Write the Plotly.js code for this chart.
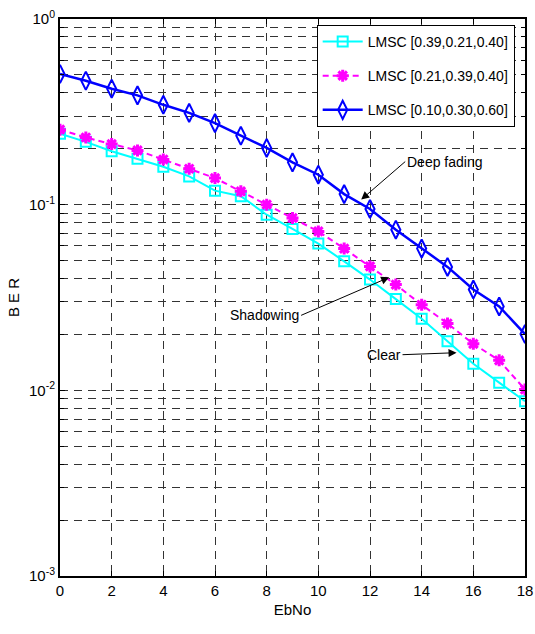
<!DOCTYPE html>
<html>
<head>
<meta charset="utf-8">
<script src="https://cdn.plot.ly/plotly-3.0.1.min.js"></script>
<style>html,body{margin:0;padding:0;background:#fff;}#chart{width:535px;height:634px;}</style>
</head>
<body>
<div id="chart"></div>
<script>
const ebno = [0,1,2,3,4,5,6,7,8,9,10,11,12,13,14,15,16,17,18];
const berClear = [0.241,0.218,0.194,0.177,0.160,0.142,0.119,0.111,0.0883,0.074,0.0617,0.0495,0.0395,0.031,0.0243,0.0184,0.0139,0.011,0.00873];
const berShadow = [0.2535,0.230,0.212,0.196,0.175,0.156,0.139,0.118,0.100,0.0848,0.0718,0.058,0.0465,0.0371,0.0289,0.0229,0.0178,0.0145,0.0101];
const berDeep = [0.506,0.465,0.421,0.388,0.345,0.312,0.275,0.235,0.202,0.169,0.145,0.114,0.0948,0.0733,0.058,0.0462,0.0349,0.0283,0.0201];
const seriesNames = ['LMSC [0.39,0.21,0.40]','LMSC [0.21,0.39,0.40]','LMSC [0.10,0.30,0.60]'];
const xTicks = [0,2,4,6,8,10,12,14,16,18];
const yDecades = [1,0.1,0.01,0.001];
const yDecadeLabels = ['10<sup>0</sup>','10<sup>-1</sup>','10<sup>-2</sup>','10<sup>-3</sup>'];

const font = 'Liberation Sans Narrow, Arial Narrow, Liberation Sans, Arial, sans-serif';

// minor log grid values: 2..9 x 10^k
const yMinorVals = [];
for (let k = -3; k <= -1; k++) {
  for (let m = 2; m <= 9; m++) yMinorVals.push(m * Math.pow(10, k));
}

const traces = [
  {x: ebno, y: berClear, name: seriesNames[0], legendgroup: 'a', mode: 'lines+markers',
   line: {color: '#00ffff', width: 2},
   marker: {symbol: 'square-open', size: 10, color: '#00ffff', line: {width: 2, color: '#00ffff'}}},
  {x: ebno, y: berShadow, name: seriesNames[1], legendgroup: 'b', mode: 'lines+markers',
   line: {color: '#ff00ff', width: 2, dash: '6px,4px'},
   marker: {symbol: 'asterisk-open', size: 10, color: '#ff00ff', line: {width: 3, color: '#ff00ff'}}},
  {x: ebno, y: berDeep, name: seriesNames[2], legendgroup: 'c', mode: 'lines+markers',
   line: {color: '#0000ff', width: 2.5},
   marker: {symbol: 'diamond-tall-open', size: 13, color: '#0000ff', line: {width: 2, color: '#0000ff'}}}
];

const layout = {
  width: 535, height: 634,
  margin: {l: 60, r: 10, t: 19, b: 58},
  paper_bgcolor: '#fff', plot_bgcolor: '#fff',
  font: {family: font, size: 14, color: '#000'},
  showlegend: true,
  legend: {x: 0.552, y: 0.9895, xanchor: 'left', yanchor: 'top',
           bgcolor: '#fff', bordercolor: '#000', borderwidth: 1,
           font: {family: font, size: 14, color: '#000'},
           tracegroupgap: 13, itemwidth: 40},
  xaxis: {range: [0, 18], tickmode: 'array', tickvals: xTicks, automargin: false,
          ticks: 'inside', ticklen: 5, tickcolor: '#000',
          showline: true, linecolor: '#000', linewidth: 2, mirror: 'ticks',
          showgrid: true, gridcolor: '#333', gridwidth: 1, griddash: '8px,6px',
          zeroline: false, tickfont: {family: font, size: 15},
          title: {text: 'EbNo', font: {family: font, size: 15}, standoff: 6}},
  yaxis: {type: 'log', range: [-3, 0], tickmode: 'array', tickvals: yDecades, ticktext: yDecadeLabels, automargin: false,
          ticks: 'inside', ticklen: 5, tickcolor: '#000',
          showline: true, linecolor: '#000', linewidth: 2, mirror: 'ticks',
          showgrid: true, gridcolor: '#333', gridwidth: 1, griddash: '8px,6px',
          minor: {tickmode: 'array', tickvals: yMinorVals, ticks: 'inside', ticklen: 4, tickcolor: '#000',
                  showgrid: true, gridcolor: '#333', gridwidth: 1, griddash: '8px,6px'},
          zeroline: false, tickfont: {family: font, size: 15},
          title: {text: 'B E R', font: {family: font, size: 15}, standoff: 6}},
  annotations: [
    {x: 11.66, y: Math.log10(0.1065), xref: 'x', yref: 'y', text: 'Deep fading',
     showarrow: true, arrowhead: 2, arrowsize: 1.6, arrowwidth: 1, arrowcolor: '#000',
     ax: 44, ay: -38, xanchor: 'left', font: {family: font, size: 14, color: '#000'}},
    {x: 12.74, y: Math.log10(0.0406), xref: 'x', yref: 'y', text: 'Shadowing',
     showarrow: true, arrowhead: 2, arrowsize: 1.6, arrowwidth: 1, arrowcolor: '#000',
     ax: -88, ay: 38, xanchor: 'right', font: {family: font, size: 14, color: '#000'}},
    {x: 15.35, y: Math.log10(0.01595), xref: 'x', yref: 'y', text: 'Clear',
     showarrow: true, arrowhead: 2, arrowsize: 1.6, arrowwidth: 1, arrowcolor: '#000',
     ax: -54, ay: 2, xanchor: 'right', font: {family: font, size: 14, color: '#000'}}
  ]
};

Plotly.newPlot('chart', traces, layout, {displayModeBar: false, staticPlot: true});
</script>
</body>
</html>
